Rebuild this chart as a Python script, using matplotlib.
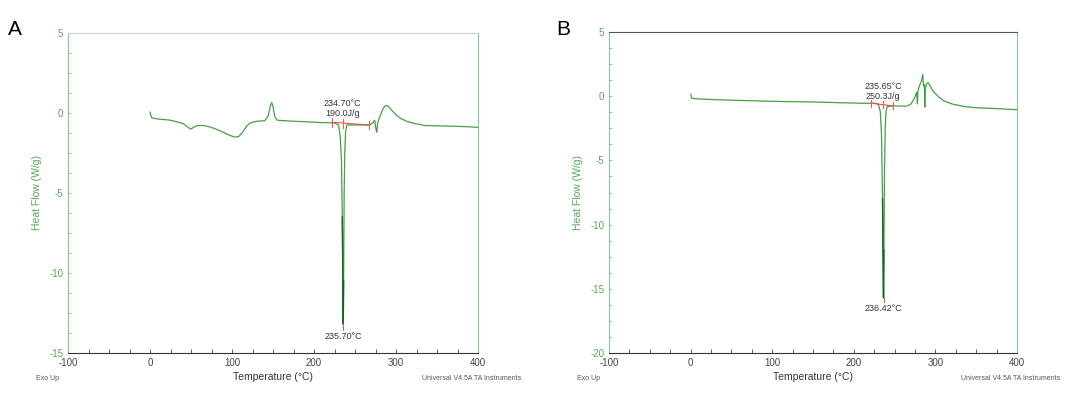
import matplotlib
matplotlib.use('Agg')
from matplotlib import pyplot as plt
from matplotlib.ticker import MultipleLocator
import numpy as np

plt.rcParams['font.family'] = ['Liberation Sans', 'DejaVu Sans']
plt.rcParams['axes.unicode_minus'] = False

# panel A: DSC trace (temperature in C, heat flow in W/g)
temp_a = [0, 2, 10, 25, 40, 48, 50, 53, 58, 65, 75, 85, 95, 103, 108, 113, 118, 123,
          130, 140, 144, 147, 148.5, 150, 152, 155, 170, 190, 210, 225, 230, 232,
          233.5, 234.5, 235.3, 235.7, 236.1, 236.8, 237.5, 238.5, 240, 255, 268,
          272, 274, 275.5, 276.5, 277.5, 279, 282, 285, 288, 291, 296, 303, 312,
          322, 335, 350, 370, 385, 400]
flow_a = [0.05, -0.3, -0.38, -0.45, -0.65, -0.95, -1.0, -0.9, -0.78, -0.78, -0.9,
          -1.1, -1.35, -1.5, -1.48, -1.2, -0.8, -0.6, -0.52, -0.48, -0.2, 0.5, 0.65,
          0.4, -0.2, -0.45, -0.5, -0.55, -0.6, -0.62, -0.75, -1.5, -3.0, -6.5, -11.0,
          -13.2, -10.5, -5.0, -2.5, -1.2, -0.75, -0.75, -0.75, -0.6, -0.45, -1.0,
          -1.2, -0.7, -0.4, 0.0, 0.35, 0.48, 0.4, 0.1, -0.25, -0.5, -0.65, -0.78,
          -0.8, -0.83, -0.85, -0.9]

# panel B
temp_b = [0, 1.5, 5, 30, 60, 100, 150, 180, 210, 225, 230, 232.5, 234, 235.2, 236.0,
          236.42, 236.9, 237.6, 238.5, 239.5, 241, 250, 265, 270, 274, 277, 278,
          278.5, 281, 283, 284.5, 285.5, 286.5, 287, 287.5, 289, 291, 293, 297, 303,
          310, 320, 335, 350, 370, 400]
flow_b = [0.15, -0.15, -0.2, -0.27, -0.33, -0.4, -0.45, -0.5, -0.55, -0.55, -0.6,
          -1.2, -3.0, -8.0, -13.5, -15.7, -12.0, -6.0, -2.5, -1.2, -0.8, -0.75, -0.78,
          -0.6, -0.2, 0.3, -0.6, 0.4, 0.9, 1.2, 1.7, 0.8, 0.9, -0.85, 0.5, 0.95, 1.05,
          0.85, 0.4, 0.0, -0.35, -0.6, -0.8, -0.9, -0.95, -1.05]

# integration limits / baseline / peak annotation
panels = [
    dict(letter='A', t=temp_a, f=flow_a, ylim=(-15, 5), base_t=(222, 235, 267),
         base_f=(-0.58, -0.65, -0.75), onset='234.70°C\n190.0J/g', peak_t=235.70,
         peak_f=-13.2, top_spine='#cfcfcf', text_y=0.25),
    dict(letter='B', t=temp_b, f=flow_b, ylim=(-20, 5), base_t=(221, 236, 247.5),
         base_f=(-0.55, -0.62, -0.75), onset='235.65°C\n250.3J/g', peak_t=236.42,
         peak_f=-15.7, top_spine='#555555', text_y=0.15),
]

GREEN = '#45a045'
TICKG = '#55a855'
SPINEG = '#86c986'

fig = plt.figure(figsize=(10.92, 3.93), dpi=100)
rects = [(68 / 1092, 40 / 393, 410 / 1092, 320 / 393),
         (609 / 1092, 40 / 393, 408 / 1092, 321 / 393)]
letter_x = [8 / 1092, 556 / 1092]

for p, rect, lx in zip(panels, rects, letter_x):
    ax = fig.add_axes(rect)
    t = np.array(p['t'])
    f = np.array(p['f'])
    ax.plot(t, f, color=GREEN, lw=0.9)
    deep = f < -6
    ax.plot(t[deep], f[deep], color='#1f5e2a', lw=1.0)

    bt, bf = p['base_t'], p['base_f']
    ax.plot([bt[0], bt[2]], [bf[0], bf[2]], color='#d9534f', lw=0.8)
    for xx, yy in zip(bt, bf):
        ax.plot([xx, xx], [yy - 0.28, yy + 0.28], color='#e06060', lw=0.8)
    ax.plot([p['peak_t'], p['peak_t']], [p['peak_f'], p['peak_f'] - 0.35],
            color='#e06060', lw=0.8)

    ax.text(bt[1], bf[0] + p['text_y'], p['onset'], fontsize=6.5, color='#333333',
            ha='center', va='bottom', linespacing=1.15)
    ax.text(p['peak_t'], p['peak_f'] - 0.5, f"{p['peak_t']:.2f}°C", fontsize=6.5,
            color='#333333', ha='center', va='top')

    ax.set_xlim(-100, 400)
    ax.set_ylim(*p['ylim'])
    ax.xaxis.set_major_locator(MultipleLocator(100))
    ax.xaxis.set_minor_locator(MultipleLocator(25))
    ax.yaxis.set_major_locator(MultipleLocator(5))
    ax.yaxis.set_minor_locator(MultipleLocator(1.25))
    ax.tick_params(axis='x', which='both', direction='in', length=3, width=0.6,
                   colors='#444444', labelsize=7, pad=3.5)
    ax.tick_params(axis='y', which='both', direction='in', length=2.5, width=0.6,
                   color='#aaaaaa', labelcolor=TICKG, labelsize=7, pad=3.5)

    ax.spines['left'].set_color(SPINEG)
    ax.spines['right'].set_color(SPINEG)
    ax.spines['top'].set_color(p['top_spine'])
    ax.spines['bottom'].set_color('#333333')
    for s in ax.spines.values():
        s.set_linewidth(0.8)

    ax.set_xlabel('Temperature (°C)', fontsize=7.5, color='#333333', labelpad=3)
    ax.set_ylabel('Heat Flow (W/g)', fontsize=7.5, color=TICKG, labelpad=5)

    ax.text(-0.05, -0.08, 'Exo Up', transform=ax.transAxes, fontsize=5,
            color='#555555', ha='center', va='center')
    ax.text(1.105, -0.08, 'Universal V4.5A TA Instruments', transform=ax.transAxes,
            fontsize=5, color='#555555', ha='right', va='center')

    fig.text(lx, 0.925, p['letter'], fontsize=15, ha='left', va='center')

fig.savefig('out.png', dpi=100)
